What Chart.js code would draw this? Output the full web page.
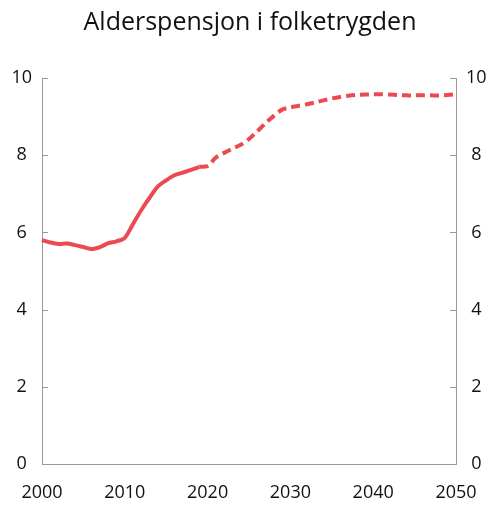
<!DOCTYPE html>
<html>
<head>
<meta charset="utf-8">
<script src="https://cdn.jsdelivr.net/npm/chart.js@4/dist/chart.umd.min.js"></script>
<style>
  html, body { margin: 0; padding: 0; background: #fff; }
  #wrap { width: 500px; height: 510px; }
</style>
</head>
<body>
<div id="wrap"><canvas id="chart"></canvas></div>
<script>
// --- data ---
const years = [];
for (let y = 2000; y <= 2050; y++) years.push(String(y));

// historikk 2000-2019
const actual = [5.80, 5.74, 5.70, 5.71, 5.67, 5.62, 5.57, 5.62, 5.72, 5.77,
                5.86, 6.22, 6.58, 6.90, 7.19, 7.35, 7.48, 7.55, 7.62, 7.70];
// framskriving 2019-2050
const projection = [7.70, 7.72, 7.94, 8.06, 8.17, 8.27, 8.42, 8.62, 8.83, 9.02,
                    9.18, 9.24, 9.28, 9.32, 9.37, 9.42, 9.47, 9.51, 9.54, 9.56,
                    9.57, 9.58, 9.58, 9.57, 9.56, 9.55, 9.55, 9.55, 9.55, 9.55,
                    9.56, 9.58];
const yTicks = [0, 2, 4, 6, 8, 10];

const RED = '#ec4a50';
const AXIS = '#9a9a9a';
const FONT = "'Open Sans', sans-serif";

// pad series to the full year axis
const solidData = years.map((y, i) => i < actual.length ? actual[i] : null);
const dashData = years.map((y, i) => i >= actual.length - 1 ? projection[i - (actual.length - 1)] : null);

// small inward tick marks on both y axes
const innerTicks = {
    id: 'innerTicks',
    afterDraw(chart) {
        const ctx = chart.ctx;
        const area = chart.chartArea;
        const ys = chart.scales.y;
        ctx.save();
        ctx.strokeStyle = AXIS;
        ctx.lineWidth = 1;
        yTicks.forEach(v => {
            const py = Math.round(ys.getPixelForValue(v)) + 0.5;
            ctx.beginPath();
            ctx.moveTo(area.left, py);
            ctx.lineTo(area.left + 6, py);
            ctx.moveTo(area.right, py);
            ctx.lineTo(area.right - 6, py);
            ctx.stroke();
        });
        ctx.restore();
    }
};

const yAxis = (pos, w) => ({
    position: pos,
    min: 0,
    max: 10,
    afterBuildTicks: s => { s.ticks = yTicks.map(v => ({ value: v })); },
    afterFit: s => { s.width = w; },
    grid: { display: false, drawTicks: false },
    border: { display: true, color: AXIS, width: 1 },
    ticks: { color: '#111', font: { family: FONT, size: 18 }, padding: 10, crossAlign: 'center' }
});

new Chart(document.getElementById('chart'), {
    type: 'line',
    data: {
        labels: years,
        datasets: [
            {
                data: solidData,
                borderColor: RED,
                borderWidth: 4,
                pointRadius: 0,
                tension: 0.3,
                spanGaps: false
            },
            {
                data: dashData,
                borderColor: RED,
                borderWidth: 4,
                borderDash: [9, 5],
                pointRadius: 0,
                tension: 0.3,
                spanGaps: false
            }
        ]
    },
    options: {
        responsive: true,
        maintainAspectRatio: false,
        animation: false,
        layout: { padding: { top: 8, left: 0, right: 0, bottom: 0 } },
        plugins: {
            legend: { display: false },
            tooltip: { enabled: false },
            title: {
                display: true,
                text: 'Alderspensjon i folketrygden',
                color: '#111',
                font: { family: FONT, size: 25, weight: 'normal' },
                padding: { top: 0, bottom: 40 }
            }
        },
        scales: {
            x: {
                afterFit: s => { s.height = 46; },
                grid: { display: false, drawTicks: false },
                border: { display: true, color: AXIS, width: 1 },
                ticks: {
                    autoSkip: false,
                    maxRotation: 0,
                    color: '#111',
                    font: { family: FONT, size: 18 },
                    padding: 18,
                    callback: function (v, i) {
                        const lab = this.getLabelForValue(v);
                        return Number(lab) % 10 === 0 ? lab : '';
                    }
                }
            },
            y: yAxis('left', 42),
            y2: yAxis('right', 44)
        }
    },
    plugins: [innerTicks]
});
</script>
</body>
</html>
